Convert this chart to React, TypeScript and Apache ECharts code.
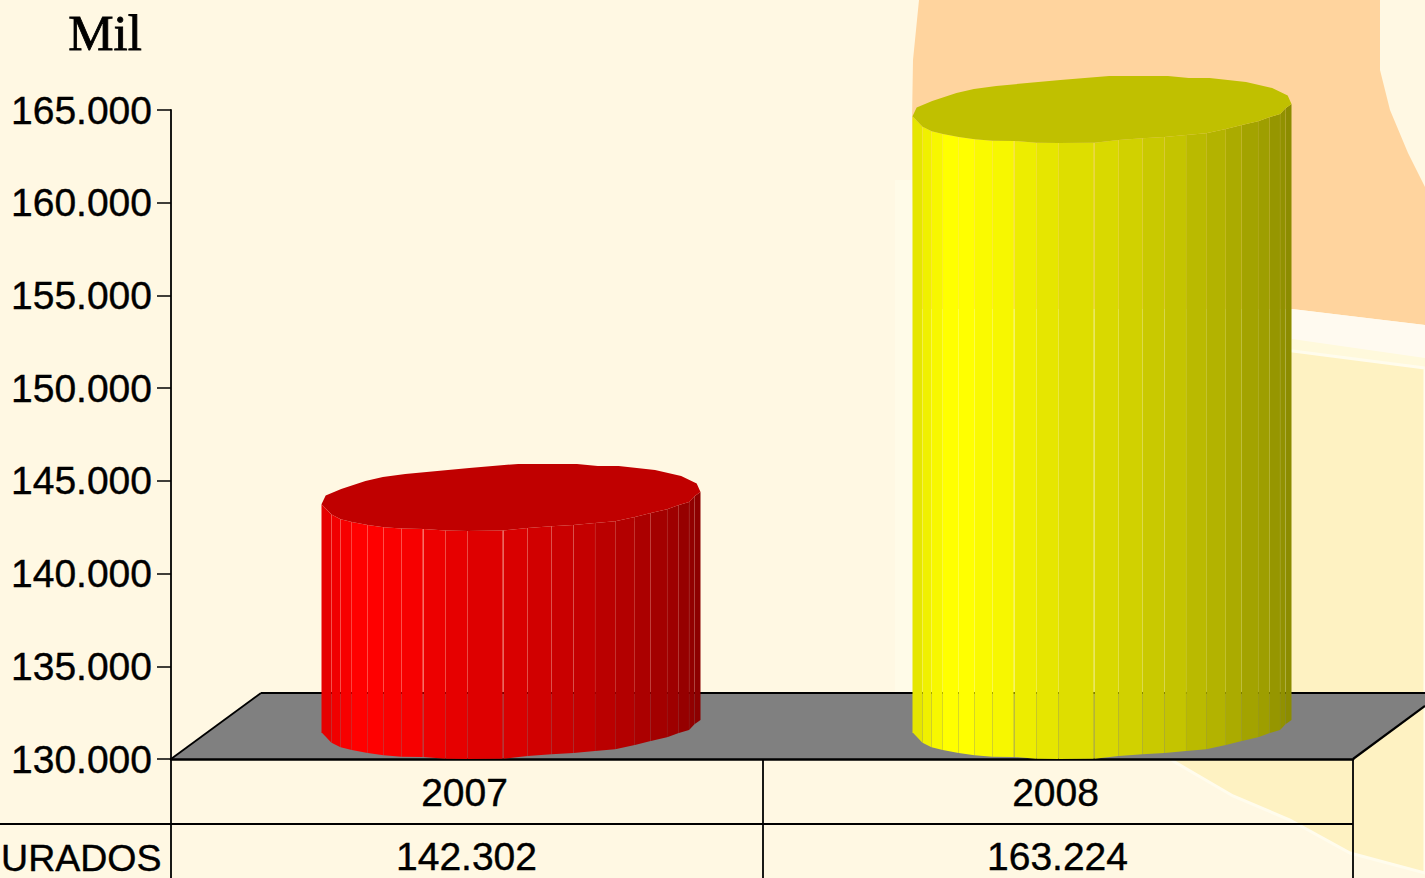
import React, { useEffect, useRef } from "react";
import * as echarts from "echarts";

const categories = ["2007", "2008"];
const values = [142302, 163224];
const rowLabel = "URADOS";
const rowValues = ["142.302", "163.224"];
const unitLabel = "Mil";
const AXIS_MIN = 130000;
const AXIS_MAX = 165000;
const AXIS_STEP = 5000;

const W = 1425;
const H = 878;
const GRID = { left: 171, right: 72, top: 110, bottom: 119 };
const DEPTH_X = 90;
const DEPTH_Y = 66;
const CYL_WIDTH = 379;
const CYL_SHIFT = 44.5;

// Shape of the faceted cylinder, in fractions of its width / px above its front edge
const edgeX = [0, .0265, .0505, .08, .122, .164, .211, .269, .327, .385, .48, .544, .607, .665, .722, .775, .827, .869, .912, .943, .97, .985, 1];
const edgeLift = [26.7, 16.3, 11.7, 9, 6, 3.7, 2.3, 2, .3, 0, .3, 3, 4.7, 6, 8, 9.7, 14, 18, 21.7, 26, 29, 35, 39];
const facetShade = [.9, .94, .97, 1, 1, .98, .97, .93, .9, .87, .85, .82, .79, .77, .73, .7, .67, .64, .62, .59, .57, .55];
const topBackX = [.99, .949, .88, .784, .729, .674, .519, .39, .221, .162, .116, .052, .011];
const topBackLift = [47.5, 55, 61, 65, 65, 67, 67, 63, 57, 54, 50, 42, 35.5];
const wideSeams = [7, 10];
const hues = [[255, 0, 0], [255, 255, 0]];
const topColors = ["#c00000", "#c0c000"];

function rgb(h: number[], s: number) {
  return `rgb(${h.map((c) => Math.round(c * s)).join(",")})`;
}

function renderCylinder(params: any, api: any) {
  const i = params.dataIndex;
  const front = api.coord([api.value(0), api.value(1)]);
  const floor = api.coord([api.value(0), AXIS_MIN]);
  const left = front[0] + CYL_SHIFT - CYL_WIDTH / 2;
  const px = (f: number) => left + f * CYL_WIDTH;
  const children: any[] = [];
  facetShade.forEach((s, k) => {
    const a = px(edgeX[k]);
    const gap = wideSeams.includes(k + 1) ? 0.7 : k + 1 < facetShade.length ? 0.15 : 0;
    const b = px(edgeX[k + 1]) - gap;
    children.push({
      type: "polygon",
      shape: {
        points: [
          [a, front[1] - edgeLift[k]],
          [b, front[1] - edgeLift[k + 1]],
          [b, floor[1] - edgeLift[k + 1]],
          [a, floor[1] - edgeLift[k]],
        ],
      },
      style: { fill: rgb(hues[i], s) },
    });
  });
  const outline: number[][] = edgeX.map((f, k) => [px(f), front[1] - edgeLift[k]]);
  topBackX.forEach((f, k) => outline.push([px(f), front[1] - topBackLift[k]]));
  children.push({
    type: "polygon",
    shape: { points: outline },
    style: { fill: topColors[i] },
  });
  return { type: "group", children };
}

export default function App() {
  const ref = useRef<HTMLDivElement>(null);
  useEffect(() => {
    document.body.style.margin = "0";
    document.body.style.overflow = "hidden";
    const chart = echarts.init(ref.current!, undefined, { renderer: "svg" });
    const floorY = H - GRID.bottom;
    const rightX = W - GRID.right;
    const line = (x1: number, y1: number, x2: number, y2: number, lineWidth = 1.8) => ({
      type: "line",
      z: 1,
      shape: { x1, y1, x2, y2 },
      style: { stroke: "#000", lineWidth },
    });
    const labelInk = { color: "#000", fontSize: 39, fontFamily: "Liberation Sans", textBorderColor: "#000", textBorderWidth: 0.4 };
    chart.setOption({
      animation: false,
      backgroundColor: "#fff8e3",
      textStyle: { fontFamily: "Liberation Sans" },
      grid: { left: GRID.left, right: GRID.right, top: GRID.top, bottom: GRID.bottom },
      xAxis: [
        {
          type: "category",
          data: categories,
          position: "bottom",
          axisLine: { show: true, lineStyle: { color: "#000", width: 2.5 } },
          axisTick: { show: false },
          axisLabel: { ...labelInk, margin: 14, padding: [0, 4, 0, 0] },
        },
        {
          type: "category",
          data: rowValues,
          position: "bottom",
          offset: 64,
          axisLine: { show: false },
          axisTick: { show: false },
          axisLabel: { ...labelInk, margin: 14 },
        },
      ],
      yAxis: {
        type: "value",
        min: AXIS_MIN,
        max: AXIS_MAX,
        interval: AXIS_STEP,
        splitLine: { show: false },
        axisLine: { show: true, lineStyle: { color: "#000", width: 1.8 } },
        axisTick: { show: true, length: 14, lineStyle: { color: "#000", width: 1.5 } },
        axisLabel: {
          ...labelInk,
          margin: 19,
          formatter: (v: number) => `${Math.floor(v / 1000)}.${String(v % 1000).padStart(3, "0")}`,
        },
      },
      graphic: [
        // washed-out picture behind the chart
        { type: "polygon", z: 0, shape: { points: [[895, 180], [914, 180], [914, 700], [895, 700]] }, style: { fill: "#fffbe8" } },
        { type: "polygon", z: 0, shape: { points: [[919, 0], [1380, 0], [1380, 70], [1390, 110], [1408, 153], [1425, 187], [1425, 325], [1350, 316], [1292, 309], [914, 309], [912, 120], [913, 60]] }, style: { fill: "#ffd49e" } },
        { type: "polygon", z: 0, shape: { points: [[1292, 309], [1350, 316], [1425, 325], [1425, 366], [1292, 346]] }, style: { fill: "#fffaf0" } },
        { type: "polygon", z: 0, shape: { points: [[1285, 338], [1425, 358], [1425, 372], [1285, 352]] }, style: { fill: "#fff9dc" } },
        { type: "polygon", z: 0, shape: { points: [[1285, 350], [1425, 368], [1425, 873], [1350, 853], [1290, 820], [1233, 796], [1173, 761], [1173, 690], [1285, 690]] }, style: { fill: "#fef2c2", stroke: "#fffced", lineWidth: 3 } },
        // floor
        { type: "polygon", z: 0, shape: { points: [[GRID.left, floorY], [GRID.left + DEPTH_X, floorY - DEPTH_Y], [W, floorY - DEPTH_Y], [W, floorY - 53], [rightX, floorY]] }, style: { fill: "#808080" } },
        line(GRID.left + DEPTH_X, floorY - DEPTH_Y, W, floorY - DEPTH_Y),
        line(GRID.left, floorY, GRID.left + DEPTH_X, floorY - DEPTH_Y),
        line(rightX, floorY, W, floorY - 53, 2.2),
        // data table
        line(GRID.left, floorY, GRID.left, H),
        line(763, floorY, 763, H),
        line(rightX, floorY, rightX, H),
        line(0, 824, rightX, 824),
        { type: "text", z: 1, x: 161.5, y: 858, style: { text: rowLabel, fill: "#000", stroke: "#000", lineWidth: 0.4, font: "37.5px 'Liberation Sans'", align: "right", verticalAlign: "middle" } },
        { type: "text", z: 1, x: 105, y: 33, style: { text: unitLabel, fill: "#000", stroke: "#000", lineWidth: 0.8, font: "51px 'Liberation Serif'", align: "center", verticalAlign: "middle" } },
      ],
      series: [
        {
          type: "custom",
          xAxisIndex: 0,
          coordinateSystem: "cartesian2d",
          clip: false,
          z: 5,
          encode: { x: 0, y: 1 },
          data: categories.map((_, i) => [i, values[i]]),
          renderItem: renderCylinder,
        },
      ],
    });
    return () => chart.dispose();
  }, []);
  return <div ref={ref} style={{ width: W, height: H }} />;
}
